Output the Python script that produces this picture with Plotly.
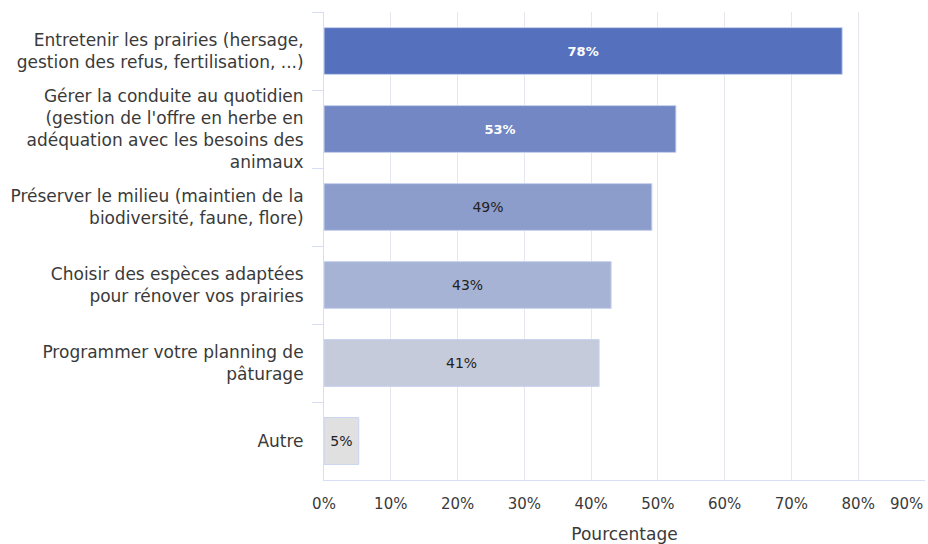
import plotly.graph_objects as go

categories = [
    "Entretenir les prairies (hersage,<br>gestion des refus, fertilisation, ...)",
    "Gérer la conduite au quotidien<br>(gestion de l'offre en herbe en<br>adéquation avec les besoins des<br>animaux",
    "Préserver le milieu (maintien de la<br>biodiversité, faune, flore)",
    "Choisir des espèces adaptées<br>pour rénover vos prairies",
    "Programmer votre planning de<br>pâturage",
    "Autre",
]
values = [0.776, 0.527, 0.491, 0.430, 0.412, 0.052]
bar_colors = ["#5571be", "#7287c4", "#8d9dcb", "#a7b3d4", "#c5cbdb", "#e0e0e0"]
text_colors = ["#ffffff", "#ffffff", "#222222", "#222222", "#222222", "#222222"]
text_sizes = [13, 13, 14, 14, 14, 14]
text_labels = ["<b>78%</b>", "<b>53%</b>", "49%", "43%", "41%", "5%"]
x_ticks = [0, 0.1, 0.2, 0.3, 0.4, 0.5, 0.6, 0.7, 0.8, 0.9]
x_tick_labels = ["0%", "10%", "20%", "30%", "40%", "50%", "60%", "70%", "80%", "90%"]

FONT = "DejaVu Sans"
TXT = "#3a3a3a"

fig = go.Figure(
    go.Bar(
        x=values,
        y=categories,
        orientation="h",
        marker=dict(color=bar_colors, line=dict(color="#c9d3f0", width=1)),
        text=text_labels,
        textposition="inside",
        insidetextanchor="middle",
        textangle=0,
        textfont=dict(family=FONT, size=text_sizes, color=text_colors),
        hoverinfo="skip",
    )
)

fig.update_layout(
    width=928,
    height=544,
    margin=dict(l=324, r=3, t=12, b=64, autoexpand=False),
    paper_bgcolor="white",
    plot_bgcolor="white",
    bargap=0.4,
    showlegend=False,
    font=dict(family=FONT, size=15, color=TXT),
)

fig.update_xaxes(
    range=[0, 0.9],
    tickvals=x_ticks[:-1],
    ticktext=x_tick_labels[:-1],
    showgrid=True,
    gridcolor="#e6e7ee",
    gridwidth=1,
    zeroline=False,
    showline=True,
    linecolor="#d5def5",
    linewidth=1,
    ticks="",
    ticklabelstandoff=10,
    tickfont=dict(family=FONT, size=15, color=TXT),
    title=dict(text="Pourcentage", font=dict(family=FONT, size=17, color=TXT), standoff=16),
    automargin=False,
)

fig.update_yaxes(
    autorange="reversed",
    showgrid=False,
    showline=True,
    linecolor="#d5def5",
    linewidth=1,
    ticks="outside",
    tickson="boundaries",
    ticklen=11,
    tickcolor="#d5def5",
    ticklabelstandoff=16,
    tickfont=dict(family=FONT, size=17, color=TXT),
    automargin=False,
)

fig.add_annotation(
    x=x_ticks[-1], xref="x", y=0, yref="paper",
    text=x_tick_labels[-1], showarrow=False,
    xanchor="right", yanchor="top", yshift=-13, xshift=0,
    font=dict(family=FONT, size=15, color=TXT),
)

fig.write_html(
    "out.html",
    config={"displayModeBar": False},
    post_script="document.body.style.margin='0';document.body.style.overflow='hidden';",
)
